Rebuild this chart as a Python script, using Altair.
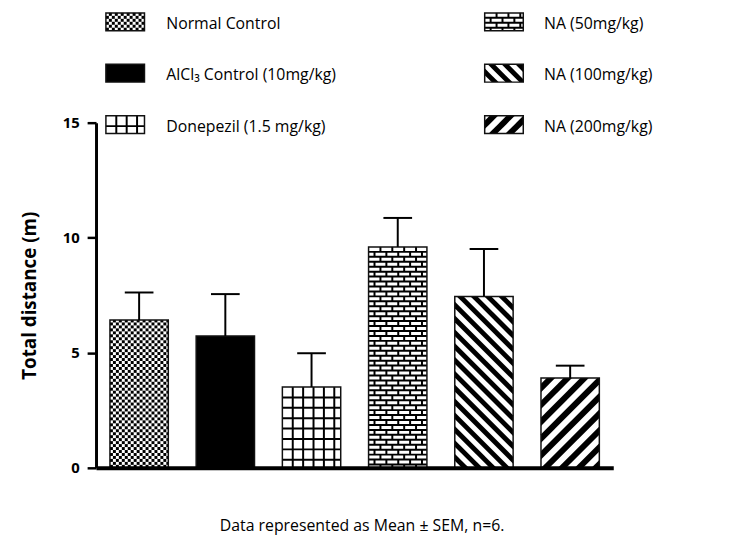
import altair as alt
import pandas as pd

# ---------------- data ----------------
groups = ["Normal Control", "AlCl₃ Control (10mg/kg)", "Donepezil (1.5 mg/kg)",
          "NA (50mg/kg)", "NA (100mg/kg)", "NA (200mg/kg)"]
means = [6.42, 5.73, 3.51, 9.60, 7.45, 3.90]
sems = [1.20, 1.82, 1.47, 1.26, 2.06, 0.54]
y_ticks = [0, 5, 10, 15]
y_title = "Total distance (m)"
caption = "Data represented as Mean ± SEM, n=6."

# ---------------- styles / layout ----------------
fills = ["checker", "solid", "grid", "brick", "back", "fwd"]
FONT = "Open Sans"
W, H = 523, 349
YMAX = 15
N = len(groups)
SX = W / N
SY = H / YMAX
BAR_PX = 59.0
CAP_PX = 29.0
legend_cols = [(10, 71), (393, 453)]   # swatch left, text left (px, plot-relative)
legend_rows = [-102, -50, 2]           # row centres (px, plot-relative)
SW_W, SW_H = 39, 18


def dx(px):
    return px / SX


def dy(py):
    return (H - py) / SY


cells, rules, areas = [], [], []
area_id = [0]


def band_poly(s, c, t, x0, y0, x1, y1):
    cand = {x0, x1}
    for yy in (y0, y1):
        for off in (0.0, t):
            xx = (yy - c - off) / s
            if x0 < xx < x1:
                cand.add(xx)
    pts = []
    for x in sorted(cand):
        lo = max(y0, s * x + c)
        hi = min(y1, s * x + c + t)
        if hi >= lo - 1e-9:
            pts.append((x, lo, max(hi, lo)))
    if len(pts) >= 2 and any(h - l > 1e-6 for _, l, h in pts):
        return pts
    return None


def add_pattern(kind, x0, y0, x1, y1):
    if kind == "checker":
        c = 3.0
        j = 0
        x = x0
        while x < x1 - 1e-6:
            xe = min(x + c, x1)
            k = 0
            y = y1
            while y > y0 + 1e-6:
                ye = max(y - c, y0)
                if (j + k) % 2 == 0:
                    cells.append(dict(x=dx(x), x2=dx(xe), y=dy(ye), y2=dy(y)))
                y = ye
                k += 1
            x = xe
            j += 1
    elif kind == "grid":
        g = 10.5
        x = x0 + g
        while x < x1 - 2:
            rules.append(dict(x=dx(x), x2=dx(x), y=dy(y0), y2=dy(y1), sw=2.0))
            x += g
        y = y0 + g
        while y < y1 - 2:
            rules.append(dict(x=dx(x0), x2=dx(x1), y=dy(y), y2=dy(y), sw=2.0))
            y += g
    elif kind == "brick":
        rp, bp = 5.0, 12.0
        k = 0
        y = y0
        while y < y1 - 1:
            ye = min(y + rp, y1)
            if k > 0:
                rules.append(dict(x=dx(x0), x2=dx(x1), y=dy(y), y2=dy(y), sw=2.0))
            off = 0.0 if k % 2 == 0 else bp / 2
            x = x0 + off
            while x < x1 - 1:
                if x > x0 + 1:
                    rules.append(dict(x=dx(x), x2=dx(x), y=dy(y), y2=dy(ye), sw=2.0))
                x += bp
            y = ye
            k += 1
    elif kind in ("back", "fwd"):
        s = 1.0 if kind == "back" else -1.0
        p = 14.0 if kind == "back" else 17.0
        t = 0.5 * p
        if s > 0:
            cmin, cmax = y0 - x1 - t, y1 - x0
        else:
            cmin, cmax = y0 + x0 - t, y1 + x1
        c = cmin - (cmin % p)
        while c <= cmax:
            pts = band_poly(s, c, t, x0, y0, x1, y1)
            if pts:
                area_id[0] += 1
                for (px, lo, hi) in pts:
                    areas.append(dict(id=area_id[0], x=dx(px), y=dy(lo), y2=dy(hi)))
            c += p


# ---------------- bars ----------------
bw = BAR_PX / SX
cw = CAP_PX / SX
bars = pd.DataFrame({
    "group": groups,
    "mean": means,
    "top": [m + s for m, s in zip(means, sems)],
    "x": [i + 0.5 - bw / 2 for i in range(N)],
    "x2": [i + 0.5 + bw / 2 for i in range(N)],
    "xc": [i + 0.5 for i in range(N)],
    "cl": [i + 0.5 - cw / 2 for i in range(N)],
    "cr": [i + 0.5 + cw / 2 for i in range(N)],
    "fill": ["black" if f == "solid" else "white" for f in fills],
})
bars["zero"] = 0.0

for i in range(N):
    x0p = bars.loc[i, "x"] * SX
    x1p = bars.loc[i, "x2"] * SX
    y0p = H - means[i] * SY
    add_pattern(fills[i], x0p, y0p, x1p, H)

# ---------------- legend ----------------
sw_rows, lt_rows = [], []
for k in range(N):
    col, row = k // 3, k % 3
    sx0 = legend_cols[col][0]
    sy0 = legend_rows[row] - SW_H / 2
    sw_rows.append(dict(x=dx(sx0), x2=dx(sx0 + SW_W), y=dy(sy0 + SW_H), y2=dy(sy0),
                        fill="black" if fills[k] == "solid" else "white"))
    add_pattern(fills[k], sx0, sy0, sx0 + SW_W, sy0 + SW_H)
    lt_rows.append(dict(x=dx(legend_cols[col][1]), y=dy(legend_rows[row] + 2), label=groups[k]))
sw = pd.DataFrame(sw_rows)
lt = pd.DataFrame(lt_rows)
cap_df = pd.DataFrame([dict(x=dx(269), y=dy(408), label=caption)])

cells_df = pd.DataFrame(cells)
rules_df = pd.DataFrame(rules)
areas_df = pd.DataFrame(areas)

# ---------------- chart ----------------
xs = alt.Scale(domain=[0, N], nice=False, zero=False)
ys = alt.Scale(domain=[0, YMAX], nice=False, zero=False)

x_axis = alt.Axis(title=None, labels=False, ticks=False, grid=False, domain=True,
                  domainWidth=4, domainColor="black", zindex=1)
y_axis = alt.Axis(values=y_ticks, title=y_title, grid=False,
                  titleFont=FONT, titleFontSize=19, titleFontWeight="bold", titleColor="black",
                  titleX=-67, titleY=H / 2, titleAngle=270, titleAlign="center",
                  titleBaseline="middle",
                  labelFont=FONT, labelFontSize=15, labelFontWeight="bold", labelColor="black",
                  labelPadding=8, tickSize=9, tickWidth=2.5, tickColor="black",
                  domainWidth=3, domainColor="black", zindex=1)


def X(f):
    return alt.X(f, type="quantitative", scale=xs, axis=x_axis)


def Y(f):
    return alt.Y(f, type="quantitative", scale=ys, axis=y_axis)


bar_base = alt.Chart(bars).mark_rect(strokeWidth=0).encode(
    x=X("x"), x2="x2", y=Y("mean"), y2="zero",
    color=alt.Color("fill:N", scale=None))

sw_base = alt.Chart(sw).mark_rect(strokeWidth=0).encode(
    x=X("x"), x2="x2", y=Y("y"), y2="y2", color=alt.Color("fill:N", scale=None))

cell_layer = alt.Chart(cells_df).mark_rect(color="black", strokeWidth=0).encode(
    x=X("x"), x2="x2", y=Y("y"), y2="y2")

area_layer = alt.Chart(areas_df).mark_area(color="black", interpolate="linear").encode(
    x=X("x"), y=Y("y"), y2="y2", detail="id:N")

rule_layer = alt.Chart(rules_df).mark_rule(color="black", strokeCap="butt").encode(
    x=X("x"), x2="x2", y=Y("y"), y2="y2", strokeWidth=alt.StrokeWidth("sw:Q", scale=None))

bar_outline = alt.Chart(bars).mark_rect(filled=False, color="#111", strokeWidth=1.5).encode(
    x=X("x"), x2="x2", y=Y("mean"), y2="zero")

sw_outline = alt.Chart(sw).mark_rect(filled=False, color="#111", strokeWidth=1.5).encode(
    x=X("x"), x2="x2", y=Y("y"), y2="y2")

err_v = alt.Chart(bars).mark_rule(color="black", strokeWidth=2).encode(
    x=X("xc"), y=Y("mean"), y2="top")

err_cap = alt.Chart(bars).mark_rule(color="black", strokeWidth=2).encode(
    x=X("cl"), x2="cr", y=Y("top"))

legend_text = alt.Chart(lt).mark_text(align="left", baseline="middle", font=FONT,
                                      fontSize=16, color="black").encode(
    x=X("x"), y=Y("y"), text="label:N")

caption_text = alt.Chart(cap_df).mark_text(align="center", baseline="middle", font=FONT,
                                           fontSize=16, color="black").encode(
    x=X("x"), y=Y("y"), text="label:N")

chart = alt.layer(
    bar_base, sw_base, cell_layer, area_layer, rule_layer, bar_outline, sw_outline,
    err_v, err_cap, legend_text, caption_text
).properties(
    width=W, height=H,
    padding={"left": 89, "top": 113, "right": 115, "bottom": 68},
    autosize=alt.AutoSizeParams(type="none"),
    background="white",
).configure_view(stroke=None)

chart.save("out.html", embed_options={"renderer": "svg", "actions": False})
